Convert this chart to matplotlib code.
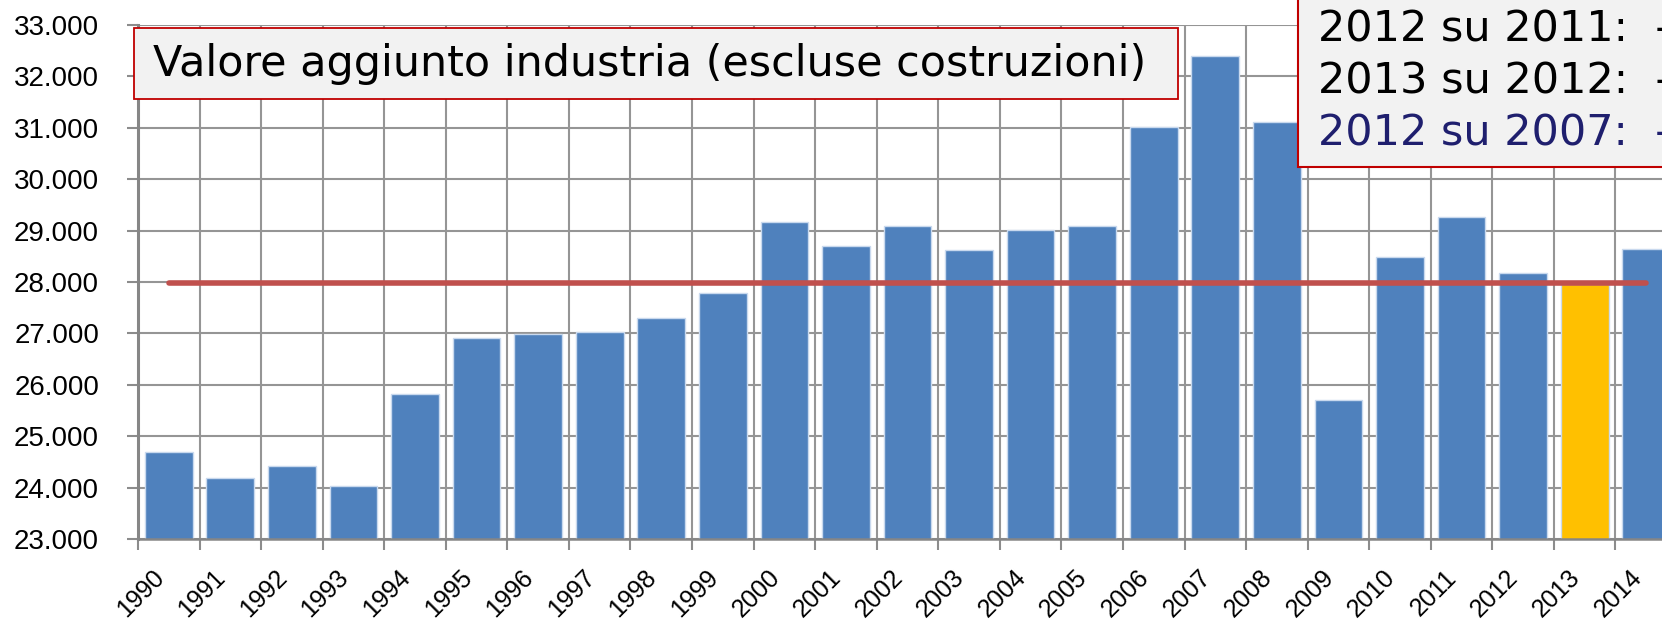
import matplotlib
matplotlib.use("Agg")
import matplotlib.pyplot as plt
from matplotlib.patches import Rectangle
from matplotlib.transforms import ScaledTranslation

# dati
anni = ["1990", "1991", "1992", "1993", "1994", "1995", "1996", "1997", "1998", "1999",
        "2000", "2001", "2002", "2003", "2004", "2005", "2006", "2007", "2008", "2009",
        "2010", "2011", "2012", "2013", "2014"]
valori = [24700, 24190, 24420, 24030, 25815, 26905, 26980, 27020, 27295, 27795,
          29160, 28700, 29090, 28620, 29005, 29090, 31025, 32390, 31105, 25700,
          28490, 29270, 28180, 27960, 28650]
anno_evidenziato = "2013"
livello_rif = 27975
tick_y = [23000, 24000, 25000, 26000, 27000, 28000, 29000, 30000, 31000, 32000, 33000]
etichette_y = ["23.000", "24.000", "25.000", "26.000", "27.000", "28.000",
               "29.000", "30.000", "31.000", "32.000", "33.000"]
titolo = "Valore aggiunto industria (escluse costruzioni)"
righe_box = ["2012 su 2011:  \u2013", "2013 su 2012:  \u2013", "2012 su 2007:  \u2013"]
colori_righe = ["black", "black", "#1f1f6e"]

W, H = 1662, 623
fig = plt.figure(figsize=(W / 100, H / 100), dpi=100)
ax = fig.add_axes([138 / W, 1 - 539 / H, (1677 - 138) / W, (539 - 25) / H])

x = list(range(len(anni)))
colori = ["#ffc000" if a == anno_evidenziato else "#4f81bd" for a in anni]
ax.bar(x, valori, width=0.775, color=colori, edgecolor="#c9d9ee", linewidth=1, zorder=2)

# linea di riferimento (livello 2013)
ax.plot([x[0], x[-1]], [livello_rif, livello_rif], color="#c0504d", lw=4,
        solid_capstyle="round", zorder=3)

ax.set_xlim(-0.5, len(anni) - 0.5)
ax.set_ylim(tick_y[0], tick_y[-1])
ax.set_yticks(tick_y)
ax.set_yticklabels(etichette_y, fontsize=20, family="Liberation Sans")
ax.set_xticks(x)
ax.set_xticklabels(anni, fontsize=18, family="Liberation Sans", rotation=45, ha="right")
ax.set_xticks([i - 0.5 for i in range(len(anni) + 1)], minor=True)
sposta = ScaledTranslation(5 / 100, 0, fig.dpi_scale_trans)
for lab in ax.get_xticklabels():
    lab.set_transform(lab.get_transform() + sposta)

ax.tick_params(axis="x", which="major", length=0, pad=19)
ax.tick_params(axis="x", which="minor", length=8, width=1.5, color="#8c8c8c")
ax.tick_params(axis="y", length=8, width=1.5, color="#8c8c8c", pad=20)

ax.set_axisbelow(True)
ax.grid(axis="y", which="major", color="#959595", lw=1.5)
ax.grid(axis="x", which="minor", color="#959595", lw=1.5)
for s in ["top", "right"]:
    ax.spines[s].set_visible(False)
ax.spines["left"].set_color("#868686")
ax.spines["left"].set_linewidth(2.2)
ax.spines["bottom"].set_color("#868686")
ax.spines["bottom"].set_linewidth(1.8)

# riquadro titolo
fig.add_artist(Rectangle((134 / W, 1 - 99 / H), (1178 - 134) / W, (99 - 28) / H,
                         transform=fig.transFigure, facecolor="#f2f2f2",
                         edgecolor="#c00000", lw=1.3, zorder=5))
fig.text(153 / W, 1 - 64 / H, titolo, fontsize=30.9, family="DejaVu Sans",
         va="center", ha="left", zorder=6)

# riquadro variazioni (tagliato a destra come nell'originale)
fig.add_artist(Rectangle((1298 / W, 1 - 167 / H), 500 / W, 200 / H,
                         transform=fig.transFigure, facecolor="#f2f2f2",
                         edgecolor="#c00000", lw=1.5, zorder=5))
for i, (t, c) in enumerate(zip(righe_box, colori_righe)):
    fig.text(1318 / W, 1 - (30 + 51.5 * i) / H, t, fontsize=31, family="DejaVu Sans",
             color=c, va="center", ha="left", zorder=6)

fig.savefig("out.png", dpi=100)
